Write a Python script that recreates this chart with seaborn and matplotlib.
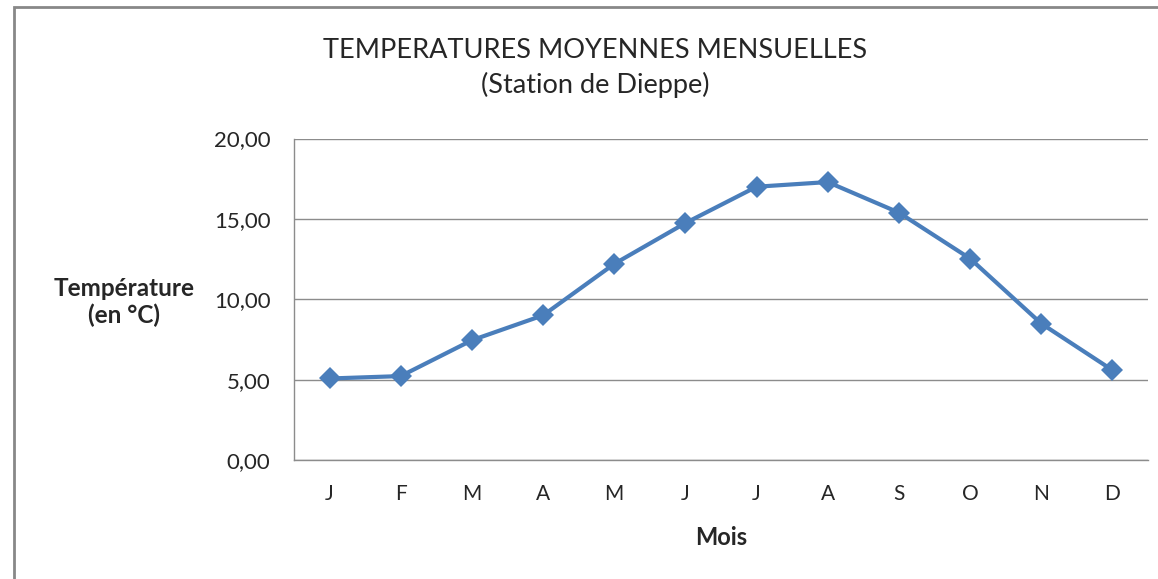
import numpy as np
import matplotlib
matplotlib.use("Agg")
import matplotlib.pyplot as plt
from matplotlib.patches import Rectangle
from matplotlib.ticker import FuncFormatter, FixedLocator
import seaborn as sns

# data
mois = ["J", "F", "M", "A", "M", "J", "J", "A", "S", "O", "N", "D"]
temperatures = [5.07, 5.22, 7.45, 9.0, 12.2, 14.74, 17.0, 17.29, 15.39, 12.53, 8.49, 5.59]
y_ticks = [0, 5, 10, 15, 20]

sns.set_style("white")
plt.rcParams['font.family'] = ['Lato', 'DejaVu Sans']

fig = plt.figure(figsize=(11.58, 5.79), dpi=100)
ax = fig.add_axes([294 / 1158, 1 - 460 / 579, (1148 - 294) / 1158, (460 - 138.5) / 579])

pos = np.arange(len(mois))
sns.lineplot(x=pos, y=temperatures, ax=ax, color="#4a7ebb", linewidth=3,
             marker="D", markersize=11, markeredgewidth=0, zorder=3)

ax.set_xlim(-0.5, len(mois) - 0.5)
ax.set_ylim(0, 20)
ax.set_xticks(pos)
ax.set_xticklabels(mois, fontsize=15)
ax.xaxis.set_minor_locator(FixedLocator(np.arange(-0.5, len(mois), 1)))
ax.tick_params(axis="x", which="major", length=0, pad=17)
ax.tick_params(axis="x", which="minor", length=6, width=1, color="#8c8c8c", direction="out")
ax.set_yticks(y_ticks)
ax.yaxis.set_major_formatter(FuncFormatter(lambda v, p: f"{v:.2f}".replace(".", ",")))
ax.tick_params(axis="y", length=6, width=1, color="#8c8c8c", direction="out", labelsize=16, pad=11)

ax.grid(axis="y", color="#8c8c8c", linewidth=1)
ax.grid(axis="x", visible=False)
for s in ["top", "right"]:
    ax.spines[s].set_visible(False)
for s in ["left", "bottom"]:
    ax.spines[s].set_color("#8c8c8c")
    ax.spines[s].set_linewidth(1)

ax.set_xlabel("Mois", fontsize=17, fontweight="bold", labelpad=16)
fig.text(124 / 1158, 1 - 302 / 579, "Température\n(en °C)", ha="center", va="center",
         fontsize=17.5, fontweight="bold", linespacing=1.2)
fig.text(595 / 1158, 1 - 68 / 579, "TEMPERATURES MOYENNES MENSUELLES\n(Station de Dieppe)",
         ha="center", va="center", fontsize=19.5, linespacing=1.4)

# chart frame
fig.patches.append(Rectangle((14 / 1158, -0.1), 1.2, 1 - 7 / 579 + 0.1, transform=fig.transFigure,
                             fill=False, edgecolor="#888888", linewidth=2))

fig.savefig("out.png", dpi=100)
